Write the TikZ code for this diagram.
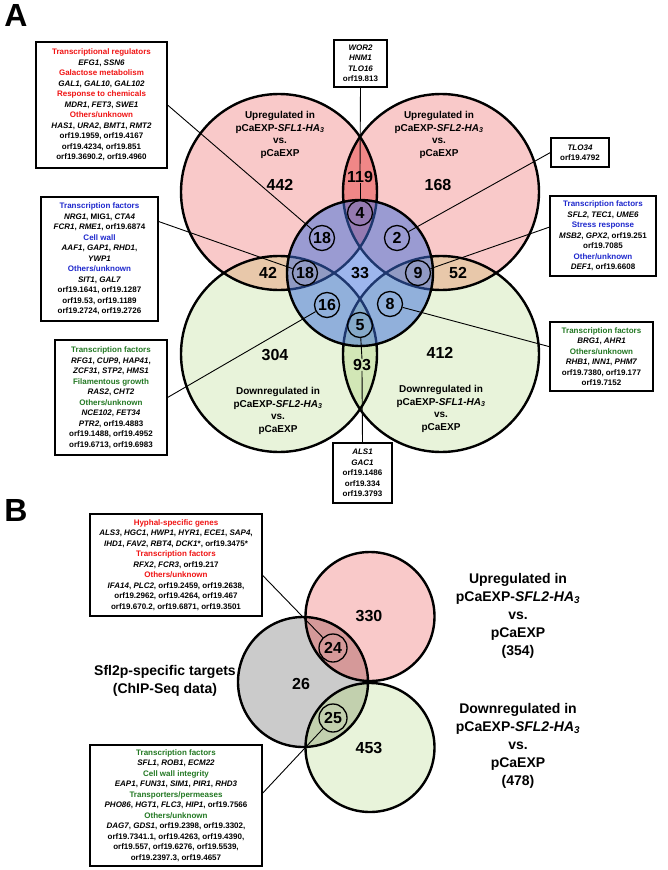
\documentclass[tikz,border=0pt]{standalone}
\usepackage{fontspec}
\setmainfont{Liberation Sans}
\usetikzlibrary{calc}
\definecolor{pinkA}{RGB}{249,201,201}
\definecolor{pinkAA}{RGB}{240,135,135}
\definecolor{greenA}{RGB}{232,243,218}
\definecolor{greenAA}{RGB}{210,231,182}
\definecolor{tanA}{RGB}{232,200,170}
\definecolor{blueA}{RGB}{60,110,220}
\definecolor{greyB}{RGB}{203,203,203}
\definecolor{roseB}{RGB}{213,153,153}
\definecolor{ggB}{RGB}{194,208,174}
\definecolor{hdred}{RGB}{240,20,20}
\definecolor{hdblue}{RGB}{30,40,205}
\definecolor{hdgreen}{RGB}{35,120,35}
\newcommand\hdR[1]{\textcolor{hdred}{#1}}
\newcommand\hdB[1]{\textcolor{hdblue}{#1}}
\newcommand\hdG[1]{\textcolor{hdgreen}{#1}}
\newcommand\gi[1]{\textit{#1}}
\begin{document}
\begin{tikzpicture}[x=1pt,y=-1pt,
  box/.style={draw=black, line width=1.1pt, fill=white, align=center, inner sep=2pt, font=\fontsize{8}{10.5}\selectfont\bfseries},
  num/.style={inner sep=0pt, font=\fontsize{16}{16}\selectfont\bfseries},
  cnum/.style={num, draw=black, circle, line width=1.3pt, minimum size=25pt},
  cnumB/.style={num, draw=black, circle, line width=1.3pt, minimum size=28pt},
  conn/.style={line width=0.9pt},
  vlab/.style={align=center, inner sep=0pt, font=\fontsize{10}{12.7}\selectfont\bfseries},
  blab/.style={align=center, inner sep=0pt, font=\fontsize{14}{18}\selectfont\bfseries},
  panel/.style={inner sep=0pt, font=\fontsize{32}{32}\selectfont\bfseries},
  vout/.style={draw=black, line width=2.4pt}
]
\fill[white] (0,0) rectangle (668,870);
\useasboundingbox (0,0) rectangle (668,870);

% ---------------- Panel A ----------------
\node[panel] (labA) at (16,15) {A};
\fill[pinkA] (279,192) circle[radius=98pt];
\fill[pinkA] (441,192) circle[radius=98pt];
\fill[greenA] (279,354) circle[radius=98pt];
\fill[greenA] (441,354) circle[radius=98pt];
\begin{scope}
  \clip (279,192) circle[radius=98pt];
  \fill[pinkAA] (441,192) circle[radius=98pt];
  \fill[tanA] (279,354) circle[radius=98pt];
\end{scope}
\begin{scope}
  \clip (441,354) circle[radius=98pt];
  \fill[tanA] (441,192) circle[radius=98pt];
  \fill[greenAA] (279,354) circle[radius=98pt];
\end{scope}
\foreach \p in {(279,192),(441,192),(279,354),(441,354)} \draw[vout] \p circle[radius=98pt];
\fill[blueA, fill opacity=0.5] (360,273) circle[radius=73pt];
\draw[vout] (360,273) circle[radius=73pt];

\node[vlab] (ltl) at (280,135) {Upregulated in\\pCaEXP-\gi{SFL1-HA}\textsubscript{\gi{3}}\\vs.\\pCaEXP};
\node[vlab] (ltr) at (439,135) {Upregulated in\\pCaEXP-\gi{SFL2-HA}\textsubscript{\gi{3}}\\vs.\\pCaEXP};
\node[vlab] (lbl) at (278,411) {Downregulated in\\pCaEXP-\gi{SFL2-HA}\textsubscript{\gi{3}}\\vs.\\pCaEXP};
\node[vlab] (lbr) at (441,409) {Downregulated in\\pCaEXP-\gi{SFL1-HA}\textsubscript{\gi{3}}\\vs.\\pCaEXP};

\node[num] (n442) at (280,185) {442};
\node[num] (n168) at (438,185) {168};
\node[num] (n304) at (275,355) {304};
\node[num] (n412) at (440,353) {412};
\node[num] (n119) at (360,177) {119};
\node[num] (n42) at (268,273) {42};
\node[num] (n52) at (458,273) {52};
\node[num] (n93) at (362,365) {93};
\node[num] (n33) at (360,273) {33};
\node[cnum] (c4) at (360,213) {4};
\node[cnum] (c18a) at (322,238) {18};
\node[cnum] (c2) at (397,238) {2};
\node[cnum] (c18b) at (305,273) {18};
\node[cnum] (c9) at (418,273) {9};
\node[cnum] (c16) at (327,305) {16};
\node[cnum] (c8) at (390,304) {8};
\node[cnum] (c5) at (360,325) {5};

\node[box, minimum width=131pt, minimum height=126pt] (tlbox) at (101.5,105) {%
\hdR{Transcriptional regulators}\\\gi{EFG1}, \gi{SSN6}\\\hdR{Galactose metabolism}\\\gi{GAL1}, \gi{GAL10}, \gi{GAL102}\\%
\hdR{Response to chemicals}\\\gi{MDR1}, \gi{FET3}, \gi{SWE1}\\\hdR{Others/unknown}\\\gi{HAS1}, \gi{URA2}, \gi{BMT1}, \gi{RMT2}\\%
orf19.1959, orf19.4167\\orf19.4234, orf19.851\\orf19.3690.2, orf19.4960};
\node[box, minimum width=53pt, minimum height=47pt] (wbox) at (360.5,63.5) {\gi{WOR2}\\\gi{HNM1}\\\gi{TLO16}\\orf19.813};
\node[box, minimum width=58pt, minimum height=29pt] (tlobox) at (580,152.5) {\gi{TLO34}\\orf19.4792};
\node[box, minimum width=106pt, minimum height=80pt] (rubox) at (603,236) {%
\hdB{Transcription factors}\\\gi{SFL2}, \gi{TEC1}, \gi{UME6}\\\hdB{Stress response}\\\gi{MSB2}, \gi{GPX2}, orf19.251\\orf19.7085\\%
\hdB{Other/unknown}\\\gi{DEF1}, orf19.6608};
\node[box, minimum width=117pt, minimum height=124pt] (lmbox) at (99.5,259) {%
\hdB{Transcription factors}\\\gi{NRG1}, MIG1, \gi{CTA4}\\\gi{FCR1}, \gi{RME1}, orf19.6874\\\hdB{Cell wall}\\\gi{AAF1}, \gi{GAP1}, \gi{RHD1},\\\gi{YWP1}\\%
\hdB{Others/unknown}\\\gi{SIT1}, \gi{GAL7}\\orf19.1641, orf19.1287\\orf19.53, orf19.1189\\orf19.2724, orf19.2726};
\node[box, minimum width=112pt, minimum height=115pt] (blbox) at (111,397.5) {%
\hdG{Transcription factors}\\\gi{RFG1}, \gi{CUP9}, \gi{HAP41},\\\gi{ZCF31}, \gi{STP2}, \gi{HMS1}\\\hdG{Filamentous growth}\\\gi{RAS2}, \gi{CHT2}\\%
\hdG{Others/unknown}\\\gi{NCE102}, \gi{FET34}\\\gi{PTR2}, orf19.4883\\orf19.1488, orf19.4952\\orf19.6713, orf19.6983};
\node[box, minimum width=103pt, minimum height=69pt] (rbbox) at (601.5,356.5) {%
\hdG{Transcription factors}\\\gi{BRG1}, \gi{AHR1}\\\hdG{Others/unknown}\\\gi{RHB1}, \gi{INN1}, \gi{PHM7}\\orf19.7380, orf19.177\\orf19.7152};
\node[box, minimum width=59pt, minimum height=60pt] (albox) at (362.5,473) {\gi{ALS1}\\\gi{GAC1}\\orf19.1486\\orf19.334\\orf19.3793};

\draw[conn] (tlbox.east) -- (c18a);
\draw[conn] (wbox.south) -- (n119.north);
\draw[conn] (n119.south) -- (c4);
\draw[conn] (tlobox.west) -- (c2);
\draw[conn] ($(rubox.north west)!0.39!(rubox.south west)$) -- (c9);
\draw[conn] ($(lmbox.north east)!0.2!(lmbox.south east)$) -- (c18b);
\draw[conn] (blbox.east) -- (c16);
\draw[conn] ($(rbbox.north west)!0.36!(rbbox.south west)$) -- (c8);
\draw[conn] (albox.north) -- (n93.south);
\draw[conn] (n93.north) -- (c5);

% ---------------- Panel B ----------------
\node[panel] (labB) at (16,510) {B};
\fill[pinkA] (370,616.5) circle[radius=64.5pt];
\fill[greenA] (370,747.5) circle[radius=64.5pt];
\fill[greyB] (303,682) circle[radius=65pt];
\begin{scope}
  \clip (303,682) circle[radius=65pt];
  \fill[roseB] (370,616.5) circle[radius=64.5pt];
  \fill[ggB] (370,747.5) circle[radius=64.5pt];
\end{scope}
\draw[vout] (370,616.5) circle[radius=64.5pt];
\draw[vout] (370,747.5) circle[radius=64.5pt];
\draw[vout] (303,682) circle[radius=65pt];

\node[num] (n330) at (369,616) {330};
\node[num] (n453) at (369,748) {453};
\node[num] (n26) at (301,684) {26};
\node[cnumB] (c24) at (333,648) {24};
\node[cnumB] (c25) at (333,718) {25};

\node[blab] (lup) at (518,615.5) {Upregulated in\\pCaEXP-\gi{SFL2-HA}\textsubscript{\gi{3}}\\vs.\\pCaEXP\\(354)};
\node[blab] (ldn) at (518,746) {Downregulated in\\pCaEXP-\gi{SFL2-HA}\textsubscript{\gi{3}}\\vs.\\pCaEXP\\(478)};
\node[blab] (lchip) at (165,681) {Sfl2p-specific targets\\(ChIP-Seq data)};

\node[box, minimum width=172pt, minimum height=102pt] (btbox) at (176,565) {%
\hdR{Hyphal-specific genes}\\\gi{ALS3}, \gi{HGC1}, \gi{HWP1}, \gi{HYR1}, \gi{ECE1}, \gi{SAP4},\\%
\gi{IHD1}, \gi{FAV2}, \gi{RBT4}, \gi{DCK1}*, orf19.3475*\\\hdR{Transcription factors}\\\gi{RFX2}, \gi{FCR3}, orf19.217\\%
\hdR{Others/unknown}\\\gi{IFA14}, \gi{PLC2}, orf19.2459, orf19.2638,\\orf19.2962, orf19.4264, orf19.467\\orf19.670.2, orf19.6871, orf19.3501};
\node[box, minimum width=172pt, minimum height=121pt] (bbbox) at (176,805.5) {%
\hdG{Transcription factors}\\\gi{SFL1}, \gi{ROB1}, \gi{ECM22}\\\hdG{Cell wall integrity}\\\gi{EAP1}, \gi{FUN31}, \gi{SIM1}, \gi{PIR1}, \gi{RHD3}\\%
\hdG{Transporters/permeases}\\\gi{PHO86}, \gi{HGT1}, \gi{FLC3}, \gi{HIP1}, orf19.7566\\\hdG{Others/unknown}\\%
\gi{DAG7}, \gi{GDS1}, orf19.2398, orf19.3302,\\orf19.7341.1, orf19.4263, orf19.4390,\\orf19.557, orf19.6276, orf19.5539,\\orf19.2397.3, orf19.4657};

\draw[conn] ($(btbox.north east)!0.6!(btbox.south east)$) -- (c24);
\draw[conn] ($(bbbox.north east)!0.4!(bbbox.south east)$) -- (c25);
\end{tikzpicture}
\end{document}
